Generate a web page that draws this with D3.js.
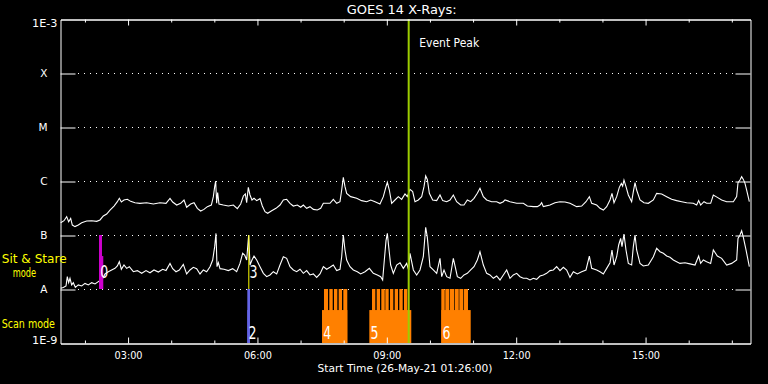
<!DOCTYPE html>
<html><head><meta charset="utf-8">
<script src="https://cdn.jsdelivr.net/npm/d3@7"></script>
<style>
body{margin:0;background:#000;}
svg{display:block;}
text{font-family:"DejaVu Sans",sans-serif;}
</style>
</head><body>
<svg id="c" width="768" height="384"></svg>
<script>
// ---------- DATA ----------
const titleText = "GOES 14 X-Rays:";
const startLabel = "26-May-21 01:26:00";
const startHour = 1 + 26/60;
const endHour = startHour + 16;
const classLevels = [1e-8, 1e-7, 1e-6, 1e-5, 1e-4];
const classLabels = ["A", "B", "C", "M", "X"];
const yEndValues = [1e-9, 1e-3];
const yEndLabels = ["1E-9", "1E-3"];
const xMajorTicks = [3, 6, 9, 12, 15];
const xMinorTicks = [2, 4, 5, 7, 8, 10, 11, 13, 14, 16, 17];
const eventPeakHour = 9.519;
const eventPeakText = "Event Peak";
const modeLabels = ["Sit & Stare", "mode", "Scan mode"];

// [hour UT, flux W/m^2]  long channel (1-8 A)
const longChannel = [
[1.449,1.69e-7],[1.526,1.84e-7],[1.588,2.19e-7],[1.634,1.76e-7],[1.681,2.03e-7],[1.719,1.53e-7],[1.781,1.43e-7],[1.858,1.53e-7],[1.936,1.69e-7],[2.052,1.82e-7],[2.168,1.84e-7],[2.284,1.79e-7],[2.361,1.90e-7],[2.438,2.25e-7],[2.516,2.45e-7],[2.593,2.90e-7],[2.686,3.44e-7],[2.763,4.14e-7],[2.809,4.78e-7],[2.856,4.08e-7],[2.917,4.45e-7],[2.995,4.58e-7],[3.072,4.20e-7],[3.172,3.96e-7],[3.288,3.86e-7],[3.443,3.96e-7],[3.598,3.75e-7],[3.752,3.96e-7],[3.891,3.86e-7],[3.984,4.78e-7],[4.046,4.08e-7],[4.139,3.59e-7],[4.231,3.86e-7],[4.309,4.45e-7],[4.370,3.26e-7],[4.463,3.75e-7],[4.541,3.96e-7],[4.618,3.12e-7],[4.695,2.78e-7],[4.772,2.98e-7],[4.850,3.35e-7],[4.943,3.59e-7],[4.989,5.13e-7],[5.020,7.86e-7],[5.043,1.0e-6],[5.066,3.86e-7],[5.089,6.08e-7],[5.120,3.75e-7],[5.221,3.59e-7],[5.337,3.44e-7],[5.453,3.59e-7],[5.545,3.07e-7],[5.623,3.75e-7],[5.685,5.28e-7],[5.731,5.75e-7],[5.762,3.96e-7],[5.800,7.63e-7],[5.839,5.51e-7],[5.885,4.45e-7],[5.932,4.78e-7],[5.994,4.33e-7],[6.071,4.71e-7],[6.125,3.44e-7],[6.187,2.70e-7],[6.249,2.52e-7],[6.342,2.82e-7],[6.442,3.12e-7],[6.535,3.59e-7],
[6.612,4.45e-7],[6.689,4.58e-7],[6.767,3.86e-7],[6.844,3.44e-7],[6.937,3.59e-7],[7.014,3.26e-7],[7.076,3.59e-7],[7.153,3.12e-7],[7.230,3.35e-7],[7.308,2.98e-7],[7.400,2.90e-7],[7.478,3.12e-7],[7.540,3.86e-7],[7.694,3.86e-7],[7.771,4.58e-7],[7.849,3.86e-7],[7.926,4.14e-7],[7.965,6.81e-7],[8.003,1.17e-6],[8.042,7.86e-7],[8.081,5.91e-7],[8.173,5.13e-7],[8.313,4.78e-7],[8.428,4.33e-7],[8.544,4.14e-7],[8.637,4.45e-7],[8.738,4.14e-7],[8.853,3.75e-7],[8.931,5.13e-7],[8.993,7.86e-7],[9.024,9.45e-7],[9.070,6.81e-7],[9.124,3.86e-7],[9.201,4.45e-7],[9.279,5.13e-7],[9.356,4.58e-7],[9.433,5.75e-7],[9.487,5.13e-7],[9.549,7.01e-7],[9.611,6.35e-7],[9.665,4.14e-7],[9.742,4.45e-7],[9.820,5.13e-7],[9.874,7.86e-7],[9.913,1.24e-6],[9.951,1.07e-6],[9.998,5.91e-7],[10.075,4.45e-7],[10.168,4.33e-7],[10.245,5.51e-7],[10.307,4.33e-7],[10.400,4.14e-7],[10.477,4.45e-7],[10.554,5.51e-7],[10.631,4.14e-7],[10.724,3.59e-7],[10.801,3.59e-7],[10.879,4.45e-7],[10.956,4.14e-7],[11.033,4.78e-7],[11.110,5.91e-7],[11.172,7.35e-7],[11.250,5.13e-7],[11.327,4.45e-7],[11.443,4.14e-7],[11.559,4.14e-7],[11.636,3.86e-7],[11.714,4.14e-7],
[11.752,4.45e-7],[11.868,4.14e-7],[12.023,3.86e-7],[12.177,3.86e-7],[12.270,3.44e-7],[12.409,3.35e-7],[12.502,3.35e-7],[12.564,3.59e-7],[12.602,3.96e-7],[12.641,3.35e-7],[12.795,3.59e-7],[12.911,3.96e-7],[13.027,4.14e-7],[13.143,4.08e-7],[13.259,3.86e-7],[13.414,3.35e-7],[13.530,3.44e-7],[13.630,4.14e-7],[13.708,5.13e-7],[13.762,3.86e-7],[13.878,3.59e-7],[13.955,3.12e-7],[14.033,2.90e-7],[14.110,3.35e-7],[14.187,4.45e-7],[14.233,5.91e-7],[14.280,3.96e-7],[14.342,5.13e-7],[14.403,7.63e-7],[14.450,9.03e-7],[14.480,8.08e-7],[14.511,1.04e-6],[14.558,7.86e-7],[14.612,5.51e-7],[14.689,4.14e-7],[14.728,6.35e-7],[14.767,9.32e-7],[14.805,6.81e-7],[14.883,4.45e-7],[14.975,3.96e-7],[15.076,3.86e-7],[15.192,4.45e-7],[15.269,5.91e-7],[15.385,5.75e-7],[15.501,5.13e-7],[15.617,4.58e-7],[15.733,4.33e-7],[15.849,4.14e-7],[15.965,3.96e-7],[16.119,3.86e-7],[16.197,3.59e-7],[16.243,4.33e-7],[16.289,3.59e-7],[16.366,4.14e-7],[16.428,3.86e-7],[16.521,3.86e-7],[16.583,5.51e-7],[16.676,4.98e-7],[16.776,4.45e-7],[16.892,4.14e-7],[17.047,4.14e-7],[17.124,5.13e-7],[17.155,9.32e-7],[17.201,1.04e-6],[17.240,1.20e-6],[17.279,1.07e-6],[17.317,9.03e-7],[17.356,6.81e-7],[17.418,4.14e-7]
];

// short channel (0.5-4 A)
const shortChannel = [
[1.449,1.03e-8],[1.511,1.07e-8],[1.573,1.14e-8],[1.603,1.69e-8],[1.634,1.31e-8],[1.665,1.58e-8],[1.704,1.19e-8],[1.742,1.31e-8],[1.789,1.07e-8],[1.858,1.19e-8],[1.936,1.14e-8],[2.013,1.27e-8],[2.090,1.19e-8],[2.168,1.31e-8],[2.245,1.24e-8],[2.322,1.37e-8],[2.376,1.47e-8],[2.423,1.58e-8],[2.477,1.90e-8],[2.554,2.09e-8],[2.631,2.25e-8],[2.709,2.41e-8],[2.763,2.67e-8],[2.809,3.21e-8],[2.856,2.32e-8],[2.917,2.78e-8],[2.979,2.41e-8],[3.041,2.59e-8],[3.134,2.09e-8],[3.227,2.19e-8],[3.327,1.95e-8],[3.428,2.19e-8],[3.520,2.00e-8],[3.613,2.25e-8],[3.714,2.06e-8],[3.814,2.32e-8],[3.891,2.19e-8],[3.984,2.98e-8],[4.046,2.38e-8],[4.123,2.09e-8],[4.200,2.25e-8],[4.293,2.86e-8],[4.370,1.90e-8],[4.448,2.25e-8],[4.525,2.52e-8],[4.602,2.38e-8],[4.680,1.90e-8],[4.757,2.25e-8],[4.834,2.09e-8],[4.912,2.59e-8],[4.974,3.44e-8],[5.020,6.08e-8],[5.051,1.07e-7],[5.074,2.59e-8],[5.105,3.07e-8],[5.144,2.38e-8],[5.236,2.32e-8],[5.337,2.19e-8],[5.437,2.38e-8],[5.530,2.09e-8],[5.607,2.98e-8],[5.669,4.58e-8],[5.715,4.26e-8],[5.762,3.44e-8],[5.808,1.0e-7],[5.839,2.78e-8],[5.885,3.44e-8],[5.932,4.08e-8],[5.994,3.44e-8],[6.071,2.59e-8],[6.149,1.95e-8],[6.226,1.69e-8],[6.303,1.82e-8],[6.380,2.09e-8],[6.458,1.90e-8],[6.535,2.78e-8],
[6.612,3.96e-8],[6.689,3.70e-8],[6.767,2.59e-8],[6.844,2.25e-8],[6.921,2.09e-8],[6.999,2.32e-8],[7.076,1.95e-8],[7.153,2.19e-8],[7.230,1.82e-8],[7.308,1.90e-8],[7.385,1.64e-8],[7.462,1.90e-8],[7.540,2.59e-8],[7.617,2.32e-8],[7.694,2.52e-8],[7.771,2.78e-8],[7.849,2.19e-8],[7.926,2.32e-8],[7.965,3.96e-8],[8.003,1.0e-7],[8.042,5.28e-8],[8.081,3.44e-8],[8.158,2.59e-8],[8.235,2.25e-8],[8.328,2.09e-8],[8.405,1.90e-8],[8.506,2.09e-8],[8.606,2.41e-8],[8.699,1.95e-8],[8.792,1.82e-8],[8.869,1.69e-8],[8.915,1.47e-8],[8.954,3.44e-8],[8.993,7.86e-8],[9.024,1.07e-7],[9.055,6.08e-8],[9.101,2.78e-8],[9.163,1.95e-8],[9.240,2.78e-8],[9.317,3.07e-8],[9.395,2.41e-8],[9.472,2.98e-8],[9.518,2.25e-8],[9.549,4.58e-8],[9.627,2.25e-8],[9.704,1.82e-8],[9.781,2.25e-8],[9.858,3.96e-8],[9.913,1.39e-7],[9.951,9.03e-8],[10.013,2.59e-8],[10.090,2.25e-8],[10.168,1.95e-8],[10.245,3.70e-8],[10.284,1.69e-8],[10.338,2.25e-8],[10.400,1.69e-8],[10.477,1.58e-8],[10.554,3.70e-8],[10.601,2.52e-8],[10.647,1.69e-8],[10.724,1.58e-8],[10.801,1.82e-8],[10.879,1.95e-8],[10.956,2.25e-8],[11.033,2.59e-8],[11.110,3.44e-8],[11.172,4.91e-8],[11.250,2.78e-8],[11.327,1.95e-8],[11.404,1.82e-8],[11.482,1.58e-8],[11.559,1.74e-8],[11.636,1.47e-8],[11.714,1.82e-8],[11.791,2.25e-8],
[11.868,1.58e-8],[11.945,1.82e-8],[12.023,1.95e-8],[12.100,1.69e-8],[12.177,1.58e-8],[12.255,1.58e-8],[12.332,1.47e-8],[12.409,1.58e-8],[12.486,1.51e-8],[12.564,1.74e-8],[12.641,1.82e-8],[12.718,1.95e-8],[12.795,2.19e-8],[12.873,2.25e-8],[12.950,2.59e-8],[13.027,2.19e-8],[13.105,2.52e-8],[13.182,2.25e-8],[13.259,1.64e-8],[13.337,2.09e-8],[13.429,1.90e-8],[13.530,2.09e-8],[13.630,2.25e-8],[13.708,4.08e-8],[13.762,2.41e-8],[13.878,2.25e-8],[13.955,2.09e-8],[14.033,1.90e-8],[14.110,2.41e-8],[14.187,3.07e-8],[14.233,5.28e-8],[14.280,2.78e-8],[14.342,3.96e-8],[14.388,6.53e-8],[14.434,8.66e-8],[14.465,6.08e-8],[14.511,1.04e-7],[14.558,5.28e-8],[14.612,2.98e-8],[14.689,2.78e-8],[14.728,6.08e-8],[14.767,1.0e-7],[14.805,5.28e-8],[14.883,2.98e-8],[14.960,2.67e-8],[15.076,2.78e-8],[15.192,3.96e-8],[15.269,5.66e-8],[15.346,4.91e-8],[15.424,4.58e-8],[15.501,4.08e-8],[15.578,3.86e-8],[15.656,3.44e-8],[15.733,3.21e-8],[15.810,2.98e-8],[15.926,3.07e-8],[16.042,2.92e-8],[16.158,2.78e-8],[16.243,4.08e-8],[16.289,2.98e-8],[16.351,3.44e-8],[16.428,3.21e-8],[16.521,2.98e-8],[16.583,5.28e-8],[16.676,4.08e-8],[16.776,3.70e-8],[16.892,2.78e-8],[17.008,2.98e-8],[17.124,3.44e-8],[17.155,8.66e-8],[17.201,1.0e-7],[17.240,1.20e-7],[17.279,9.03e-8],[17.341,5.28e-8],[17.418,2.59e-8]
];

// Sit & Stare observations (level = fraction of band height)
const sitStareObs = [
  {label:"0", start:2.338, end:2.407, level:1.0,  color:"#cc00cc"},
  {label:"",  start:2.338, end:2.437, level:0.61, color:"#cc00cc"},
  {label:"3", start:5.800, end:5.823, level:1.0,  color:"#ffff00"}
];
// Scan observations: block (partial height) + rasters (full height)
const scanObs = [
  {label:"2", start:5.777, end:5.839, color:"#6464e6", rasters:[[5.777,5.839]]},
  {label:"4", start:7.509, end:8.096, color:"#ff8000",
   rasters:[[7.555,7.648],[7.678,7.757],[7.787,7.864],[7.896,7.973],[8.003,8.095]]},
  {label:"5", start:8.606, end:9.579, color:"#ff8000",
   rasters:[[8.668,8.745],[8.777,8.854],[8.884,8.963],[8.977,9.055],[9.086,9.162],[9.195,9.271],[9.301,9.380],[9.410,9.487]]},
  {label:"6", start:10.275, end:10.957, color:"#ff8000",
   rasters:[[10.275,10.354],[10.368,10.461],[10.477,10.570],[10.586,10.679],[10.693,10.785],[10.802,10.894]]}
];
const blockLevel = 0.61;

// ---------- DRAW ----------
const W = 768, H = 384, L = 60, R = 750, T = 19, B = 343;
const svg = d3.select("#c");
svg.append("rect").attr("width", W).attr("height", H).attr("fill", "#000");

const x = d3.scaleLinear().domain([startHour, endHour]).range([L, R]);
const y = d3.scaleLog().domain([1e-9, 1e-3]).range([B, T]);

// dotted grid
svg.append("g").selectAll("line").data(classLevels).join("line")
  .attr("x1", 78).attr("x2", 736)
  .attr("y1", d => Math.round(y(d)) + 0.5).attr("y2", d => Math.round(y(d)) + 0.5)
  .attr("stroke", "#fff").attr("stroke-width", 1).attr("stroke-dasharray", "1 5");

// curves
const line = d3.line().x(d => x(d[0])).y(d => y(d[1]));
[longChannel, shortChannel].forEach(s => {
  svg.append("path").datum(s).attr("d", line)
    .attr("fill", "none").attr("stroke", "#fff").attr("stroke-width", 1.1)
    .attr("stroke-linejoin", "miter");
});

// observation bars
const ssBot = y(1e-8), ssTop = y(1e-7);
const scBot = y(1e-9), scTop = y(1e-8);
const gObs = svg.append("g");
sitStareObs.forEach(o => {
  const top = ssBot - o.level * (ssBot - ssTop);
  gObs.append("rect").attr("x", x(o.start)).attr("width", Math.max(1, x(o.end) - x(o.start)))
    .attr("y", top).attr("height", ssBot - top).attr("fill", o.color);
});
scanObs.forEach(o => {
  const top = scBot - blockLevel * (scBot - scTop);
  gObs.append("rect").attr("x", x(o.start)).attr("width", x(o.end) - x(o.start))
    .attr("y", top).attr("height", scBot - top).attr("fill", o.color);
  o.rasters.forEach(r => {
    gObs.append("rect").attr("x", x(r[0])).attr("width", x(r[1]) - x(r[0]))
      .attr("y", scTop).attr("height", scBot - scTop).attr("fill", o.color);
  });
});
// observation labels
sitStareObs.filter(o => o.label).forEach(o => {
  svg.append("text").attr("x", x(o.start) + 1.2).attr("y", ssBot - 11.5)
    .attr("font-size", 17).attr("fill", "#fff").attr("textLength", 8)
    .attr("lengthAdjust", "spacingAndGlyphs").text(o.label);
});
scanObs.forEach(o => {
  svg.append("text").attr("x", x(o.start) + 1.3).attr("y", scBot - 4.3)
    .attr("font-size", 17).attr("fill", "#fff").attr("textLength", 8)
    .attr("lengthAdjust", "spacingAndGlyphs").text(o.label);
});

// event peak
svg.append("line").attr("x1", x(eventPeakHour)).attr("x2", x(eventPeakHour))
  .attr("y1", T).attr("y2", B).attr("stroke", "#9ccc00").attr("stroke-width", 2);
svg.append("text").attr("x", x(eventPeakHour) + 10.5).attr("y", 47.3)
  .attr("font-size", 12).attr("fill", "#fff").attr("textLength", 60)
  .attr("lengthAdjust", "spacingAndGlyphs").text(eventPeakText);

// axes
function styleAxis(g) {
  g.attr("font-family", null).attr("font-size", null);
  g.selectAll(".domain").attr("stroke", "#fff").attr("stroke-width", 1);
  g.selectAll(".tick line").attr("stroke", "#fff").attr("stroke-width", 1);
  g.selectAll(".tick text").attr("fill", "#fff");
}
const fmtHour = h => String(h).padStart(2, "0") + ":00";

const gxB = svg.append("g").attr("transform", `translate(0.5,${B + 0.5})`)
  .call(d3.axisBottom(x).tickValues(xMajorTicks).tickSize(-6).tickSizeOuter(0).tickPadding(8).tickFormat(fmtHour))
  .call(styleAxis);
gxB.selectAll(".tick text").attr("font-size", 10).attr("textLength", 28).attr("lengthAdjust", "spacingAndGlyphs");
svg.append("g").attr("transform", `translate(0.5,${B + 0.5})`)
  .call(d3.axisBottom(x).tickValues(xMinorTicks).tickSize(-3).tickSizeOuter(0).tickFormat(""))
  .call(styleAxis);
svg.append("g").attr("transform", `translate(0.5,${T + 0.5})`)
  .call(d3.axisTop(x).tickValues(xMajorTicks).tickSize(-6).tickSizeOuter(0).tickFormat(""))
  .call(styleAxis);
svg.append("g").attr("transform", `translate(0.5,${T + 0.5})`)
  .call(d3.axisTop(x).tickValues(xMinorTicks).tickSize(-3).tickSizeOuter(0).tickFormat(""))
  .call(styleAxis);

const gyL = svg.append("g").attr("transform", `translate(${L + 0.5},0.5)`)
  .call(d3.axisLeft(y).tickValues(classLevels).tickSize(-15).tickSizeOuter(0).tickPadding(13)
    .tickFormat((d, i) => classLabels[i]))
  .call(styleAxis);
gyL.selectAll(".tick text").attr("font-size", 10.5);
svg.append("g").attr("transform", `translate(${R + 0.5},0.5)`)
  .call(d3.axisRight(y).tickValues(classLevels).tickSize(-15).tickSizeOuter(0).tickFormat(""))
  .call(styleAxis);

// end labels of y axis
svg.selectAll(".yend").data(yEndValues).join("text").attr("class", "yend")
  .attr("x", 57.5).attr("y", (d, i) => i === 0 ? y(d) + 0.5 : y(d) + 8.3)
  .attr("text-anchor", "end").attr("font-size", 11).attr("fill", "#fff")
  .attr("textLength", 25.5).attr("lengthAdjust", "spacingAndGlyphs")
  .text((d, i) => yEndLabels[i]);

// title
svg.append("text").attr("x", 401.7).attr("y", 14).attr("text-anchor", "middle")
  .attr("font-size", 12.5).attr("fill", "#fff").attr("textLength", 110)
  .attr("lengthAdjust", "spacingAndGlyphs").text(titleText);

// x title
svg.append("text").attr("x", 405).attr("y", 372).attr("text-anchor", "middle")
  .attr("font-size", 10.5).attr("fill", "#fff").attr("textLength", 175)
  .attr("lengthAdjust", "spacingAndGlyphs").text(`Start Time (${startLabel})`);

// mode labels
const modePos = [{x:1.7, y:262.5, w:65, fs:11.5}, {x:12.7, y:276.5, w:23.5, fs:11.5}, {x:1.7, y:328.3, w:53.3, fs:12}];
modeLabels.forEach((t, i) => {
  svg.append("text").attr("x", modePos[i].x).attr("y", modePos[i].y)
    .attr("font-size", modePos[i].fs).attr("fill", "#ffff00").attr("textLength", modePos[i].w)
    .attr("lengthAdjust", "spacingAndGlyphs").text(t);
});
</script>
</body></html>
